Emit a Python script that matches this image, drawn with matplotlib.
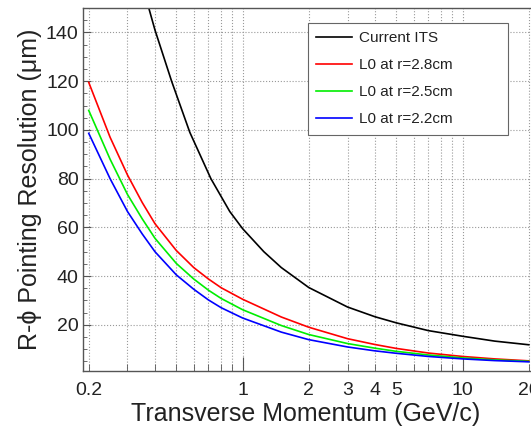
import matplotlib
matplotlib.use('Agg')
import matplotlib.pyplot as plt
from matplotlib.ticker import FixedLocator, NullFormatter, MultipleLocator

plt.rcParams['font.family'] = ['Liberation Sans', 'DejaVu Sans']

# values
pt_its = [0.35, 0.375, 0.40, 0.476, 0.576, 0.718, 0.875, 1.0, 1.25, 1.5,
          2.0, 3.0, 4.0, 5.0, 7.0, 10.0, 14.0, 20.0]
res_its = [160, 150, 141, 120, 99, 80, 66.5, 59.5, 50, 43.5,
           35.3, 27.3, 23.3, 20.8, 17.6, 15.3, 13.3, 11.8]

pt_l0 = [0.2, 0.25, 0.3, 0.35, 0.4, 0.5, 0.6, 0.7, 0.8, 1.0, 1.5, 2.0, 3.0,
         4.0, 5.0, 7.0, 10.0, 14.0, 20.0]
res_28 = [119.5, 97, 81.5, 70.2, 61.5, 50.5, 43.5, 38.8, 35.2, 30.5, 23.2,
          19.0, 14.3, 11.9, 10.3, 8.4, 7.0, 6.0, 5.2]
res_25 = [108, 88, 73.5, 63.5, 55.5, 45.2, 38.8, 34.2, 30.8, 26.2, 19.7,
          16.0, 12.3, 10.4, 9.1, 7.6, 6.4, 5.6, 5.0]
res_22 = [98.6, 80, 66.5, 57.3, 50, 40.5, 34.6, 30.2, 27.0, 22.8, 17.0,
          13.9, 10.9, 9.3, 8.3, 7.0, 6.0, 5.3, 4.8]

labels = ['Current ITS', 'L0 at r=2.8cm', 'L0 at r=2.5cm', 'L0 at r=2.2cm']
colors = ['#000000', '#ff0000', '#00ee00', '#0000ff']

xtick_major = [1, 10]
xtick_minor = [0.2, 0.3, 0.4, 0.5, 0.6, 0.7, 0.8, 0.9,
               2, 3, 4, 5, 6, 7, 8, 9, 20]
xtick_labels = {0.2: '0.2', 1: '1', 2: '2', 3: '3', 4: '4', 5: '5',
                10: '10', 20: '20'}

fig = plt.figure(figsize=(5.31, 4.28), dpi=100)
ax = fig.add_axes([0.156, 0.133, 0.857, 0.848])

series = [(pt_its, res_its), (pt_l0, res_28), (pt_l0, res_25), (pt_l0, res_22)]
for (x, y), lab, c in zip(series, labels, colors):
    ax.plot(x, y, color=c, lw=1.2, label=lab)

ax.set_xscale('log')
ax.set_xlim(0.188, 22)
ax.set_ylim(1, 150)

ax.xaxis.set_major_locator(FixedLocator(xtick_major))
ax.xaxis.set_minor_locator(FixedLocator(xtick_minor))
ax.xaxis.set_major_formatter(NullFormatter())
ax.xaxis.set_minor_formatter(NullFormatter())
for v, t in xtick_labels.items():
    ax.text(v, -0.03, t, transform=ax.get_xaxis_transform(), ha='center',
            va='top', fontsize=14, color='#222222')

ax.yaxis.set_major_locator(MultipleLocator(20))
ax.yaxis.set_minor_locator(MultipleLocator(5))
ax.tick_params(axis='y', which='major', direction='in', length=6,
               labelsize=14, labelcolor='#222222', color='#555555', pad=3)
ax.tick_params(axis='y', which='minor', direction='in', length=3,
               color='#555555')
ax.tick_params(axis='x', which='major', direction='in', length=10,
               color='#555555')
ax.tick_params(axis='x', which='minor', direction='in', length=5,
               color='#555555')

ax.grid(True, which='both', axis='x', ls=':', color='#999999', lw=0.8)
ax.grid(True, which='major', axis='y', ls=':', color='#999999', lw=0.8)

for s in ax.spines.values():
    s.set_color('#555555')
    s.set_linewidth(1.0)

ax.set_xlabel('Transverse Momentum (GeV/c)', fontsize=18, color='#222222')
ax.xaxis.set_label_coords(0.49, -0.085)
ax.set_ylabel('R-\u03d5 Pointing Resolution (\u03bcm)', fontsize=18,
              color='#222222')
ax.yaxis.set_label_coords(-0.09, 0.5)

leg = ax.legend(loc='upper left',
                bbox_to_anchor=(308 / 531, 1 - 132 / 428, 200 / 531, 109 / 428),
                bbox_transform=fig.transFigure, mode='expand',
                fontsize=11, frameon=True,
                fancybox=False, edgecolor='#666666', framealpha=1,
                handlelength=2.3, handletextpad=0.5, labelspacing=0.85,
                borderpad=0.55, borderaxespad=0)
leg.get_frame().set_linewidth(0.8)
for t in leg.get_texts():
    t.set_color('#222222')

fig.savefig('out.png', dpi=100)
